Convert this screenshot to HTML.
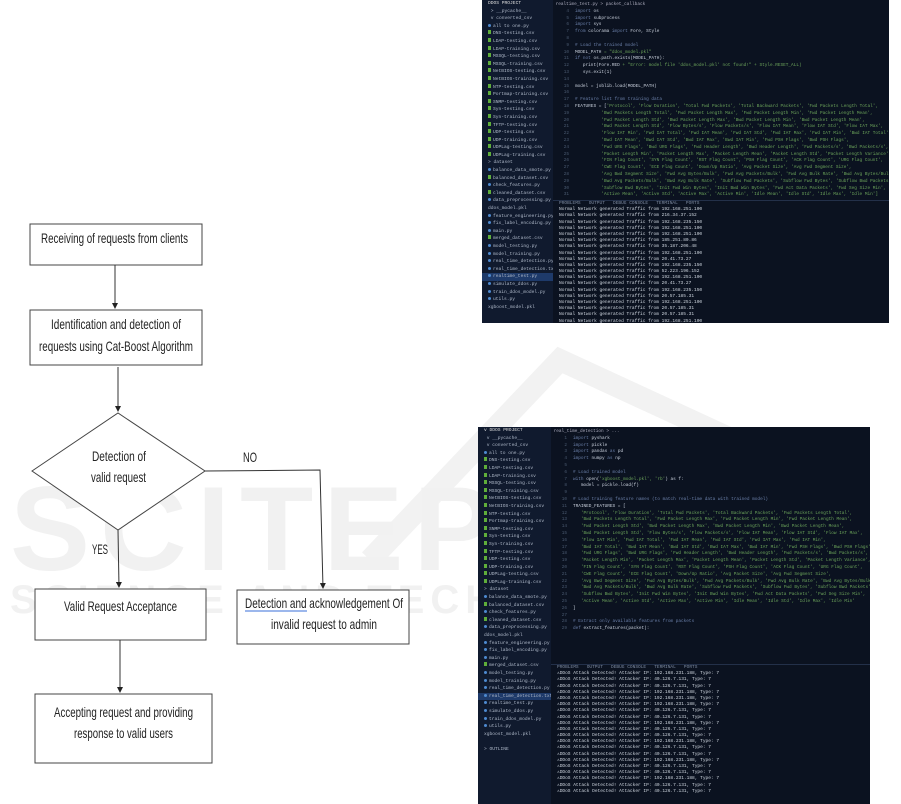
<!DOCTYPE html>
<html><head><meta charset="utf-8">
<style>
html,body{margin:0;padding:0;background:#fff;}
body{width:901px;height:804px;position:relative;overflow:hidden;font-family:"Liberation Sans",sans-serif;}
.wm{position:absolute;color:#f1f1f1;font-weight:bold;white-space:nowrap;font-family:"Liberation Sans",sans-serif;}
.ss{position:absolute;background:#0b1220;overflow:hidden;font-family:"Liberation Mono",monospace;}
.side{position:absolute;left:0;top:0;bottom:0;width:71px;background:#101a2e;}
.side div{font-size:4.6px;color:#aeb8c8;height:7.6px;line-height:7.6px;padding-left:6px;white-space:nowrap;overflow:hidden;}
.side .g::before{content:"";display:inline-block;width:3px;height:4px;background:#5fae3a;margin-right:2px;}
.side .p::before{content:"";display:inline-block;width:3px;height:3px;border-radius:2px;background:#4e8ad0;margin-right:2px;}
.side .sel{background:#1e3a6a;}
.ed{position:absolute;left:71px;right:0;top:0;}
.ed div{font-size:4.4px;height:6.8px;line-height:6.8px;color:#6ba35a;white-space:nowrap;}
.ln{display:inline-block;width:16px;color:#4a5a70;text-align:right;margin-right:6px;}
.kw{color:#6a7fa8}.id{color:#c9d0dc}
.term{position:absolute;left:71px;right:0;bottom:0;border-top:1px solid #233049;}
.term div{font-size:4.5px;height:6.2px;line-height:6.2px;color:#cfd6df;white-space:nowrap;padding-left:6px;}
.tabs{color:#7d8aa0!important;}
</style></head><body>

<!-- watermark -->
<svg style="position:absolute;left:0;top:0" width="901" height="804">
<path d="M370 560 L560 360 L820 480" fill="none" stroke="#f2f2f2" stroke-width="22"/>
<path d="M560 560 L650 720 L800 780" fill="none" stroke="#f2f2f2" stroke-width="22"/>
</svg>
<div class="wm" style="left:10px;top:460px;font-size:120px;letter-spacing:10px;">SCITEPRESS</div>
<div class="wm" style="left:10px;top:578px;font-size:40px;letter-spacing:6px;">SCIENCE AND TECHNOLOGY</div>

<!-- flowchart -->
<svg style="position:absolute;left:0;top:0" width="460" height="804" font-family="Liberation Sans, sans-serif" font-size="14" fill="#222">
<defs><marker id="a" markerWidth="6" markerHeight="6" refX="5" refY="3" orient="auto"><path d="M0,0 L6,3 L0,6z" fill="#222"/></marker></defs>
<g fill="#fff" stroke="#444" stroke-width="1">
<rect x="30" y="224" width="172" height="41"/>
<rect x="30" y="310" width="172" height="55"/>
<polygon points="32,471 118,413 205,471 118,530"/>
<rect x="35" y="589" width="171" height="51"/>
<rect x="237" y="590" width="172" height="54"/>
<rect x="35" y="694" width="177" height="69"/>
</g>
<g stroke="#333" stroke-width="1" fill="none">
<line x1="115" y1="265" x2="115" y2="308" marker-end="url(#a)"/>
<line x1="118" y1="367" x2="118" y2="411" marker-end="url(#a)"/>
<line x1="118" y1="530" x2="119" y2="587" marker-end="url(#a)"/>
<polyline points="205,471 320,470 323,588" marker-end="url(#a)"/>
<line x1="120" y1="640" x2="120" y2="692" marker-end="url(#a)"/>
</g>
<text x="41" y="243" textLength="147" lengthAdjust="spacingAndGlyphs">Receiving of requests from clients</text>
<text x="51" y="329" textLength="130" lengthAdjust="spacingAndGlyphs">Identification and detection of</text>
<text x="39" y="351" textLength="154" lengthAdjust="spacingAndGlyphs">requests using Cat-Boost Algorithm</text>
<text x="92" y="461" textLength="54" lengthAdjust="spacingAndGlyphs">Detection of</text>
<text x="91" y="482" textLength="55" lengthAdjust="spacingAndGlyphs">valid request</text>
<text x="243" y="462" textLength="14" lengthAdjust="spacingAndGlyphs">NO</text>
<text x="92" y="554" textLength="16" lengthAdjust="spacingAndGlyphs">YES</text>
<text x="64" y="611" textLength="113" lengthAdjust="spacingAndGlyphs">Valid Request Acceptance</text>
<text x="245" y="608" textLength="158" lengthAdjust="spacingAndGlyphs">Detection  and acknowledgement Of</text>
<line x1="245" y1="611" x2="307" y2="611" stroke="#3a6fd8" stroke-width="1"/>
<text x="271" y="629" textLength="106" lengthAdjust="spacingAndGlyphs">invalid request to admin</text>
<text x="54" y="717" textLength="139" lengthAdjust="spacingAndGlyphs">Accepting request and providing</text>
<text x="74" y="738" textLength="99" lengthAdjust="spacingAndGlyphs">response to valid users</text>
</svg>

<!-- screenshot 1 -->
<div class="ss" style="left:482px;top:0;width:407px;height:323px;">
<div class="side">
<div style="color:#ddd">DDOS PROJECT</div><div>&nbsp;&gt; __pycache__</div><div>&nbsp;v converted_csv</div>
<div class="p">all to one.py</div><div class="g">DNS-testing.csv</div><div class="g">LDAP-testing.csv</div><div class="g">LDAP-training.csv</div><div class="g">MSSQL-testing.csv</div><div class="g">MSSQL-training.csv</div><div class="g">NetBIOS-testing.csv</div><div class="g">NetBIOS-training.csv</div><div class="g">NTP-testing.csv</div><div class="g">Portmap-training.csv</div><div class="g">SNMP-testing.csv</div><div class="g">Syn-testing.csv</div><div class="g">Syn-training.csv</div><div class="g">TFTP-testing.csv</div><div class="g">UDP-testing.csv</div><div class="g">UDP-training.csv</div><div class="g">UDPLag-testing.csv</div><div class="g">UDPLag-training.csv</div><div>&gt; dataset</div><div class="p">balance_data_smote.py</div><div class="g">balanced_dataset.csv</div><div class="p">check_features.py</div><div class="g">cleaned_dataset.csv</div><div class="p">data_preprocessing.py</div><div>ddos_model.pkl</div><div class="p">feature_engineering.py</div><div class="p">fix_label_encoding.py</div><div class="p">main.py</div><div class="g">merged_dataset.csv</div><div class="p">model_testing.py</div><div class="p">model_training.py</div><div class="p">real_time_detection.py</div><div class="p">real_time_detection.txt</div><div class="p sel">realtime_test.py</div><div class="p">simulate_ddos.py</div><div class="p">train_ddos_model.py</div><div class="p">utils.py</div><div>xgboost_model.pkl</div>
</div>
<div class="ed" style="top:2px">
<div style="color:#aab">&nbsp;realtime_test.py &gt; packet_callback</div>
<div><span class="ln">4</span><span class="kw">import</span> <span class="id">os</span></div>
<div><span class="ln">5</span><span class="kw">import</span> <span class="id">subprocess</span></div>
<div><span class="ln">6</span><span class="kw">import</span> <span class="id">sys</span></div>
<div><span class="ln">7</span><span class="kw">from</span> <span class="id">colorama</span> <span class="kw">import</span> <span class="id">Fore, Style</span></div>
<div><span class="ln">8</span></div>
<div><span class="ln">9</span><span class="kw"># Load the trained model</span></div>
<div><span class="ln">10</span><span class="id">MODEL_PATH</span> = "ddos_model.pkl"</div>
<div><span class="ln">11</span><span class="kw">if not</span> <span class="id">os.path.exists(MODEL_PATH):</span></div>
<div><span class="ln">12</span>&nbsp;&nbsp;&nbsp;<span class="id">print(Fore.RED</span> + "Error: model file 'ddos_model.pkl' not found!" + Style.RESET_ALL)</div>
<div><span class="ln">13</span>&nbsp;&nbsp;&nbsp;<span class="id">sys.exit(1)</span></div>
<div><span class="ln">14</span></div>
<div><span class="ln">15</span><span class="id">model = joblib.load(MODEL_PATH)</span></div>
<div><span class="ln">16</span></div>
<div><span class="ln">17</span><span class="kw"># Feature list from training data</span></div>
<div><span class="ln">18</span><span class="id">FEATURES = [</span>'Protocol', 'Flow Duration', 'Total Fwd Packets', 'Total Backward Packets', 'Fwd Packets Length Total',</div>
<div><span class="ln">19</span>&nbsp;&nbsp;&nbsp;&nbsp;&nbsp;&nbsp;&nbsp;&nbsp;&nbsp;&nbsp;'Bwd Packets Length Total', 'Fwd Packet Length Max', 'Fwd Packet Length Min', 'Fwd Packet Length Mean',</div>
<div><span class="ln">20</span>&nbsp;&nbsp;&nbsp;&nbsp;&nbsp;&nbsp;&nbsp;&nbsp;&nbsp;&nbsp;'Fwd Packet Length Std', 'Bwd Packet Length Max', 'Bwd Packet Length Min', 'Bwd Packet Length Mean',</div>
<div><span class="ln">21</span>&nbsp;&nbsp;&nbsp;&nbsp;&nbsp;&nbsp;&nbsp;&nbsp;&nbsp;&nbsp;'Bwd Packet Length Std', 'Flow Bytes/s', 'Flow Packets/s', 'Flow IAT Mean', 'Flow IAT Std', 'Flow IAT Max',</div>
<div><span class="ln">22</span>&nbsp;&nbsp;&nbsp;&nbsp;&nbsp;&nbsp;&nbsp;&nbsp;&nbsp;&nbsp;'Flow IAT Min', 'Fwd IAT Total', 'Fwd IAT Mean', 'Fwd IAT Std', 'Fwd IAT Max', 'Fwd IAT Min', 'Bwd IAT Total',</div>
<div><span class="ln">23</span>&nbsp;&nbsp;&nbsp;&nbsp;&nbsp;&nbsp;&nbsp;&nbsp;&nbsp;&nbsp;'Bwd IAT Mean', 'Bwd IAT Std', 'Bwd IAT Max', 'Bwd IAT Min', 'Fwd PSH Flags', 'Bwd PSH Flags',</div>
<div><span class="ln">24</span>&nbsp;&nbsp;&nbsp;&nbsp;&nbsp;&nbsp;&nbsp;&nbsp;&nbsp;&nbsp;'Fwd URG Flags', 'Bwd URG Flags', 'Fwd Header Length', 'Bwd Header Length', 'Fwd Packets/s', 'Bwd Packets/s',</div>
<div><span class="ln">25</span>&nbsp;&nbsp;&nbsp;&nbsp;&nbsp;&nbsp;&nbsp;&nbsp;&nbsp;&nbsp;'Packet Length Min', 'Packet Length Max', 'Packet Length Mean', 'Packet Length Std', 'Packet Length Variance',</div>
<div><span class="ln">26</span>&nbsp;&nbsp;&nbsp;&nbsp;&nbsp;&nbsp;&nbsp;&nbsp;&nbsp;&nbsp;'FIN Flag Count', 'SYN Flag Count', 'RST Flag Count', 'PSH Flag Count', 'ACK Flag Count', 'URG Flag Count',</div>
<div><span class="ln">27</span>&nbsp;&nbsp;&nbsp;&nbsp;&nbsp;&nbsp;&nbsp;&nbsp;&nbsp;&nbsp;'CWE Flag Count', 'ECE Flag Count', 'Down/Up Ratio', 'Avg Packet Size', 'Avg Fwd Segment Size',</div>
<div><span class="ln">28</span>&nbsp;&nbsp;&nbsp;&nbsp;&nbsp;&nbsp;&nbsp;&nbsp;&nbsp;&nbsp;'Avg Bwd Segment Size', 'Fwd Avg Bytes/Bulk', 'Fwd Avg Packets/Bulk', 'Fwd Avg Bulk Rate', 'Bwd Avg Bytes/Bulk',</div>
<div><span class="ln">29</span>&nbsp;&nbsp;&nbsp;&nbsp;&nbsp;&nbsp;&nbsp;&nbsp;&nbsp;&nbsp;'Bwd Avg Packets/Bulk', 'Bwd Avg Bulk Rate', 'Subflow Fwd Packets', 'Subflow Fwd Bytes', 'Subflow Bwd Packets',</div>
<div><span class="ln">30</span>&nbsp;&nbsp;&nbsp;&nbsp;&nbsp;&nbsp;&nbsp;&nbsp;&nbsp;&nbsp;'Subflow Bwd Bytes', 'Init Fwd Win Bytes', 'Init Bwd Win Bytes', 'Fwd Act Data Packets', 'Fwd Seg Size Min',</div>
<div><span class="ln">31</span>&nbsp;&nbsp;&nbsp;&nbsp;&nbsp;&nbsp;&nbsp;&nbsp;&nbsp;&nbsp;'Active Mean', 'Active Std', 'Active Max', 'Active Min', 'Idle Mean', 'Idle Std', 'Idle Max', 'Idle Min']</div>
</div>
<div class="term" style="top:200px">
<div class="tabs">PROBLEMS &nbsp; OUTPUT &nbsp; DEBUG CONSOLE &nbsp; TERMINAL &nbsp; PORTS</div>
<div>Normal Network generated Traffic from 192.168.251.100</div><div>Normal Network generated Traffic from 216.34.37.152</div><div>Normal Network generated Traffic from 192.168.235.150</div><div>Normal Network generated Traffic from 192.168.251.100</div><div>Normal Network generated Traffic from 192.168.251.100</div><div>Normal Network generated Traffic from 185.251.80.86</div><div>Normal Network generated Traffic from 35.187.206.48</div><div>Normal Network generated Traffic from 192.168.251.100</div><div>Normal Network generated Traffic from 20.41.73.27</div><div>Normal Network generated Traffic from 192.168.235.150</div><div>Normal Network generated Traffic from 52.223.196.152</div><div>Normal Network generated Traffic from 192.168.251.100</div><div>Normal Network generated Traffic from 20.41.73.27</div><div>Normal Network generated Traffic from 192.168.235.150</div><div>Normal Network generated Traffic from 20.57.185.31</div><div>Normal Network generated Traffic from 192.168.251.100</div><div>Normal Network generated Traffic from 20.57.185.31</div><div>Normal Network generated Traffic from 20.57.185.31</div><div>Normal Network generated Traffic from 192.168.251.100</div>
</div>
</div>

<!-- screenshot 2 -->
<div class="ss" style="left:478px;top:427px;width:392px;height:377px;">
<div class="side" style="width:73px">
<div style="color:#ddd">v DDOS PROJECT</div><div>&nbsp;v __pycache__</div><div>&nbsp;v converted_csv</div>
<div class="p">all to one.py</div><div class="g">DNS-testing.csv</div><div class="g">LDAP-testing.csv</div><div class="g">LDAP-training.csv</div><div class="g">MSSQL-testing.csv</div><div class="g">MSSQL-training.csv</div><div class="g">NetBIOS-testing.csv</div><div class="g">NetBIOS-training.csv</div><div class="g">NTP-testing.csv</div><div class="g">Portmap-training.csv</div><div class="g">SNMP-testing.csv</div><div class="g">Syn-testing.csv</div><div class="g">Syn-training.csv</div><div class="g">TFTP-testing.csv</div><div class="g">UDP-testing.csv</div><div class="g">UDP-training.csv</div><div class="g">UDPLag-testing.csv</div><div class="g">UDPLag-training.csv</div><div>&gt; dataset</div><div class="p">balance_data_smote.py</div><div class="g">balanced_dataset.csv</div><div class="p">check_features.py</div><div class="g">cleaned_dataset.csv</div><div class="p">data_preprocessing.py</div><div>ddos_model.pkl</div><div class="p">feature_engineering.py</div><div class="p">fix_label_encoding.py</div><div class="p">main.py</div><div class="g">merged_dataset.csv</div><div class="p">model_testing.py</div><div class="p">model_training.py</div><div class="p">real_time_detection.py</div><div class="p sel">real_time_detection.txt</div><div class="p">realtime_test.py</div><div class="p">simulate_ddos.py</div><div class="p">train_ddos_model.py</div><div class="p">utils.py</div><div>xgboost_model.pkl</div><div>&nbsp;</div><div>&gt; OUTLINE</div>
</div>
<div class="ed" style="left:73px;top:2px">
<div style="color:#aab">&nbsp;real_time_detection &gt; ...</div>
<div><span class="ln">1</span><span class="kw">import</span> <span class="id">pyshark</span></div>
<div><span class="ln">2</span><span class="kw">import</span> <span class="id">pickle</span></div>
<div><span class="ln">3</span><span class="kw">import</span> <span class="id">pandas</span> <span class="kw">as</span> <span class="id">pd</span></div>
<div><span class="ln">4</span><span class="kw">import</span> <span class="id">numpy</span> <span class="kw">as</span> <span class="id">np</span></div>
<div><span class="ln">5</span></div>
<div><span class="ln">6</span><span class="kw"># Load trained model</span></div>
<div><span class="ln">7</span><span class="kw">with</span> <span class="id">open(</span>'xgboost_model.pkl', 'rb'<span class="id">) as f:</span></div>
<div><span class="ln">8</span>&nbsp;&nbsp;&nbsp;<span class="id">model = pickle.load(f)</span></div>
<div><span class="ln">9</span></div>
<div><span class="ln">10</span><span class="kw"># Load training feature names (to match real-time data with trained model)</span></div>
<div><span class="ln">11</span><span class="id">TRAINED_FEATURES = [</span></div>
<div><span class="ln">12</span>&nbsp;&nbsp;&nbsp;'Protocol', 'Flow Duration', 'Total Fwd Packets', 'Total Backward Packets', 'Fwd Packets Length Total',</div>
<div><span class="ln">13</span>&nbsp;&nbsp;&nbsp;'Bwd Packets Length Total', 'Fwd Packet Length Max', 'Fwd Packet Length Min', 'Fwd Packet Length Mean',</div>
<div><span class="ln">14</span>&nbsp;&nbsp;&nbsp;'Fwd Packet Length Std', 'Bwd Packet Length Max', 'Bwd Packet Length Min', 'Bwd Packet Length Mean',</div>
<div><span class="ln">15</span>&nbsp;&nbsp;&nbsp;'Bwd Packet Length Std', 'Flow Bytes/s', 'Flow Packets/s', 'Flow IAT Mean', 'Flow IAT Std', 'Flow IAT Max',</div>
<div><span class="ln">16</span>&nbsp;&nbsp;&nbsp;'Flow IAT Min', 'Fwd IAT Total', 'Fwd IAT Mean', 'Fwd IAT Std', 'Fwd IAT Max', 'Fwd IAT Min',</div>
<div><span class="ln">17</span>&nbsp;&nbsp;&nbsp;'Bwd IAT Total', 'Bwd IAT Mean', 'Bwd IAT Std', 'Bwd IAT Max', 'Bwd IAT Min', 'Fwd PSH Flags', 'Bwd PSH Flags',</div>
<div><span class="ln">18</span>&nbsp;&nbsp;&nbsp;'Fwd URG Flags', 'Bwd URG Flags', 'Fwd Header Length', 'Bwd Header Length', 'Fwd Packets/s', 'Bwd Packets/s',</div>
<div><span class="ln">19</span>&nbsp;&nbsp;&nbsp;'Packet Length Min', 'Packet Length Max', 'Packet Length Mean', 'Packet Length Std', 'Packet Length Variance',</div>
<div><span class="ln">20</span>&nbsp;&nbsp;&nbsp;'FIN Flag Count', 'SYN Flag Count', 'RST Flag Count', 'PSH Flag Count', 'ACK Flag Count', 'URG Flag Count',</div>
<div><span class="ln">21</span>&nbsp;&nbsp;&nbsp;'CWE Flag Count', 'ECE Flag Count', 'Down/Up Ratio', 'Avg Packet Size', 'Avg Fwd Segment Size',</div>
<div><span class="ln">22</span>&nbsp;&nbsp;&nbsp;'Avg Bwd Segment Size', 'Fwd Avg Bytes/Bulk', 'Fwd Avg Packets/Bulk', 'Fwd Avg Bulk Rate', 'Bwd Avg Bytes/Bulk',</div>
<div><span class="ln">23</span>&nbsp;&nbsp;&nbsp;'Bwd Avg Packets/Bulk', 'Bwd Avg Bulk Rate', 'Subflow Fwd Packets', 'Subflow Fwd Bytes', 'Subflow Bwd Packets',</div>
<div><span class="ln">24</span>&nbsp;&nbsp;&nbsp;'Subflow Bwd Bytes', 'Init Fwd Win Bytes', 'Init Bwd Win Bytes', 'Fwd Act Data Packets', 'Fwd Seg Size Min',</div>
<div><span class="ln">25</span>&nbsp;&nbsp;&nbsp;'Active Mean', 'Active Std', 'Active Max', 'Active Min', 'Idle Mean', 'Idle Std', 'Idle Max', 'Idle Min'</div>
<div><span class="ln">26</span><span class="id">]</span></div>
<div><span class="ln">27</span></div>
<div><span class="ln">28</span><span class="kw"># Extract only available features from packets</span></div>
<div><span class="ln">29</span><span class="kw">def</span> <span class="id">extract_features(packet):</span></div>
</div>
<div class="term" style="left:73px;top:237px">
<div class="tabs">PROBLEMS &nbsp; OUTPUT &nbsp; DEBUG CONSOLE &nbsp; TERMINAL &nbsp; PORTS</div>
<div>&#9888;DDoS Attack Detected! Attacker IP: 192.168.231.188, Type: 7</div><div>&#9888;DDoS Attack Detected! Attacker IP: 40.126.7.131, Type: 7</div><div>&#9888;DDoS Attack Detected! Attacker IP: 40.126.7.131, Type: 7</div><div>&#9888;DDoS Attack Detected! Attacker IP: 192.168.231.188, Type: 7</div><div>&#9888;DDoS Attack Detected! Attacker IP: 192.168.231.188, Type: 7</div><div>&#9888;DDoS Attack Detected! Attacker IP: 192.168.231.188, Type: 7</div><div>&#9888;DDoS Attack Detected! Attacker IP: 40.126.7.131, Type: 7</div><div>&#9888;DDoS Attack Detected! Attacker IP: 40.126.7.131, Type: 7</div><div>&#9888;DDoS Attack Detected! Attacker IP: 192.168.231.188, Type: 7</div><div>&#9888;DDoS Attack Detected! Attacker IP: 40.126.7.131, Type: 7</div><div>&#9888;DDoS Attack Detected! Attacker IP: 40.126.7.131, Type: 7</div><div>&#9888;DDoS Attack Detected! Attacker IP: 192.168.231.188, Type: 7</div><div>&#9888;DDoS Attack Detected! Attacker IP: 40.126.7.131, Type: 7</div><div>&#9888;DDoS Attack Detected! Attacker IP: 40.126.7.131, Type: 7</div><div>&#9888;DDoS Attack Detected! Attacker IP: 192.168.231.188, Type: 7</div><div>&#9888;DDoS Attack Detected! Attacker IP: 40.126.7.131, Type: 7</div><div>&#9888;DDoS Attack Detected! Attacker IP: 40.126.7.131, Type: 7</div><div>&#9888;DDoS Attack Detected! Attacker IP: 192.168.231.188, Type: 7</div><div>&#9888;DDoS Attack Detected! Attacker IP: 40.126.7.131, Type: 7</div><div>&#9888;DDoS Attack Detected! Attacker IP: 40.126.7.131, Type: 7</div>
</div>
</div>

</body></html>
